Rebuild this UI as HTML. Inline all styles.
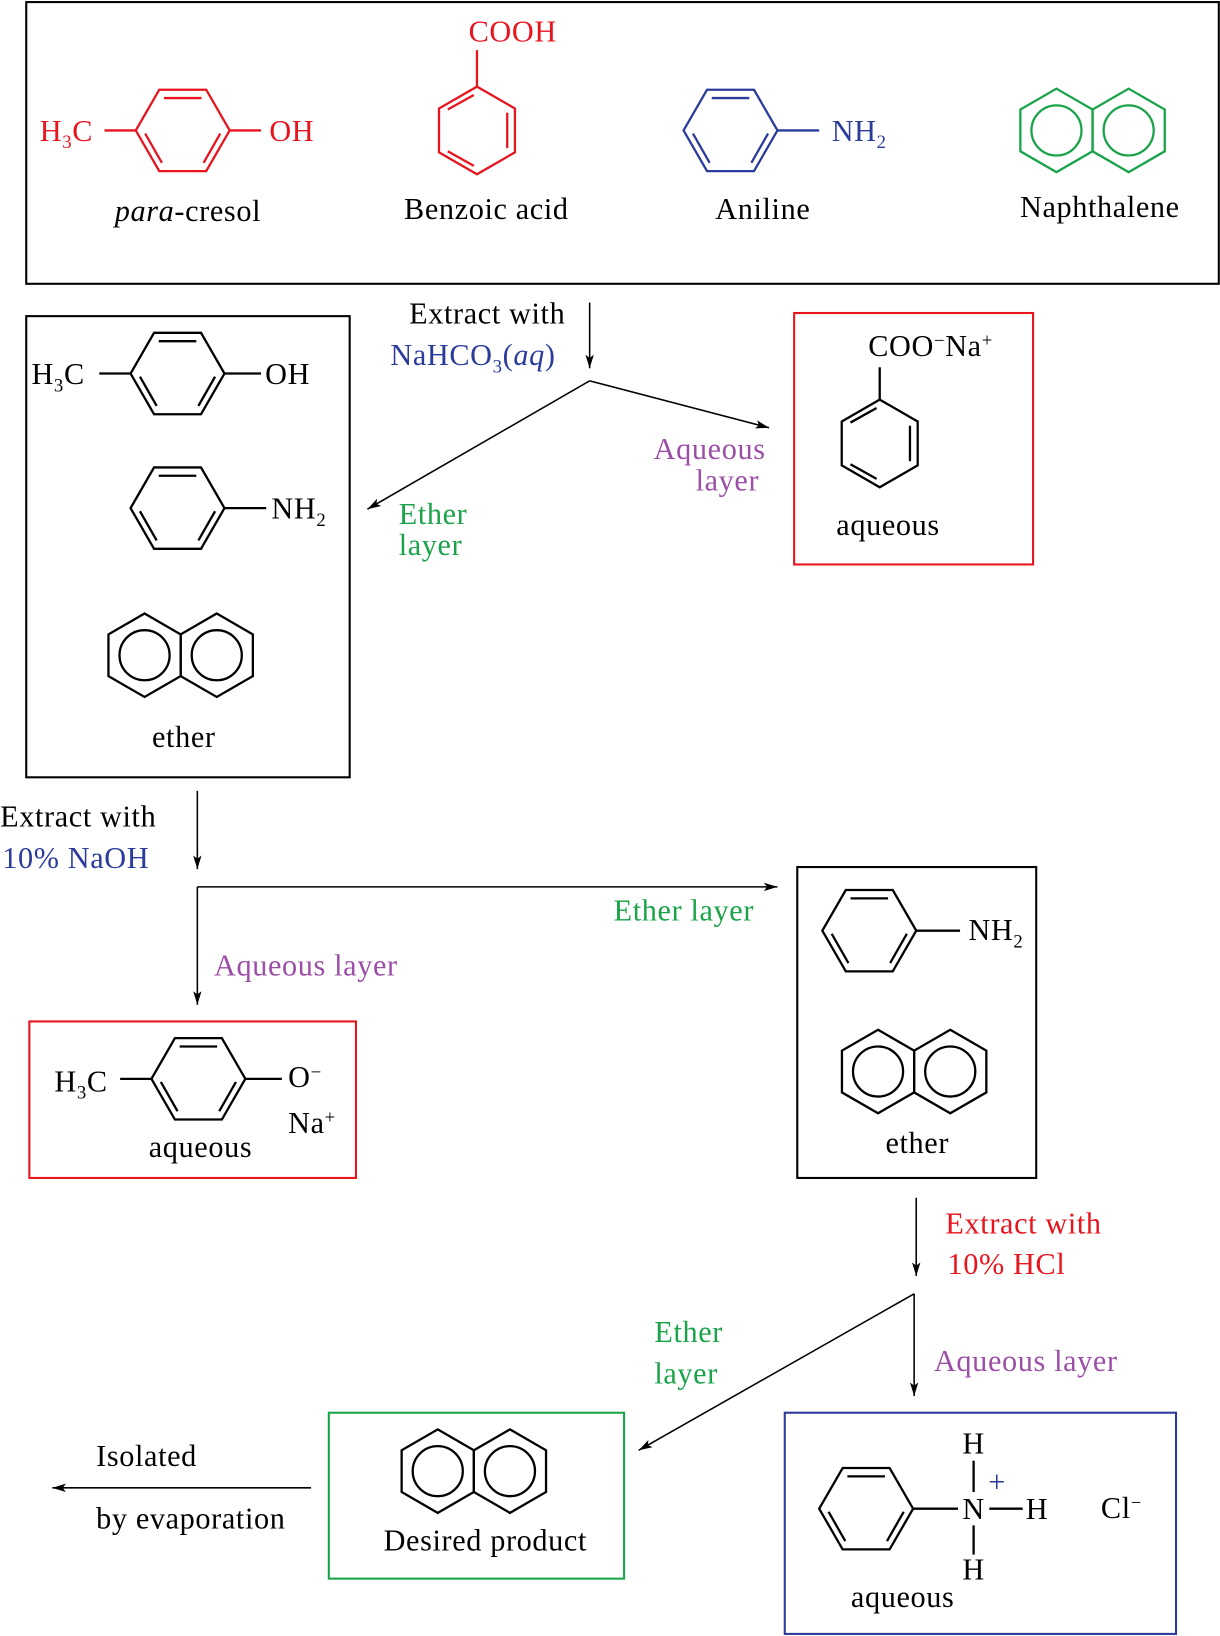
<!DOCTYPE html>
<html><head><meta charset="utf-8"><style>
html,body{margin:0;padding:0;background:#fff;}
svg{display:block;}
text{font-family:"Liberation Serif",serif;font-size:29px;letter-spacing:0.6px;}
</style></head><body>
<svg width="1220" height="1636" viewBox="0 0 1169 1568" xmlns="http://www.w3.org/2000/svg">
<defs>
<g id="hexH" fill="none" stroke-width="2.2">
<polygon points="-45,0 -22.5,-39 22.5,-39 45,0 22.5,39 -22.5,39"/>
<line x1="-18" y1="-31" x2="18" y2="-31"/>
<line x1="36" y1="3" x2="20" y2="31"/>
<line x1="-36" y1="3" x2="-20" y2="31"/>
</g>
<g id="hexV" fill="none" stroke-width="2.2">
<polygon points="0,-42 36.4,-21 36.4,21 0,42 -36.4,21 -36.4,-21"/>
<line x1="29" y1="-17" x2="29" y2="17"/>
<line x1="-3" y1="34" x2="-28" y2="20"/>
<line x1="-28" y1="-20" x2="-3" y2="-34"/>
</g>
<g id="naph" fill="none" stroke-width="2.2">
<polygon points="-34.6,-40 0,-20 0,20 -34.6,40 -69.2,20 -69.2,-20"/>
<polygon points="34.6,-40 69.2,-20 69.2,20 34.6,40 0,20 0,-20"/>
<circle cx="-34.6" cy="0" r="24"/>
<circle cx="34.6" cy="0" r="24"/>
</g>
<marker id="ar" markerWidth="14" markerHeight="10" refX="13" refY="5" orient="auto" markerUnits="userSpaceOnUse">
<path d="M0,1 L13,5 L0,9 L3,5 Z" fill="#000"/>
</marker>
</defs>

<rect x="25" y="2" width="1143" height="270" fill="none" stroke="#000" stroke-width="2"/>
<g stroke="#e8141e" fill="#e8141e">
<use href="#hexH" x="175" y="125"/>
<line x1="100" y1="125" x2="130" y2="125" stroke-width="2.2"/>
<line x1="220" y1="125" x2="250" y2="125" stroke-width="2.2"/>
<use href="#hexV" x="457" y="125"/>
<line x1="457" y1="83" x2="457" y2="48" stroke-width="2.2"/>
</g>
<text x="38" y="135" fill="#e8141e">H<tspan font-size="18" dy="7">3</tspan><tspan dy="-7">C</tspan></text>
<text x="258" y="135" fill="#e8141e">OH</text>
<text x="449" y="40" fill="#e8141e">COOH</text>
<text x="180" y="212" text-anchor="middle"><tspan font-style="italic">para</tspan>-cresol</text>
<text x="466" y="210" text-anchor="middle">Benzoic acid</text>
<g stroke="#2a3b9c"><use href="#hexH" x="700" y="125"/>
<line x1="745" y1="125" x2="785" y2="125" stroke-width="2.2"/></g>
<text x="797" y="135" fill="#2a3b9c">NH<tspan font-size="18" dy="7">2</tspan></text>
<text x="731" y="210" text-anchor="middle">Aniline</text>
<g stroke="#1aa34a"><use href="#naph" x="1047" y="125"/></g>
<text x="1054" y="208" text-anchor="middle">Naphthalene</text>

<text x="392" y="310">Extract with</text>
<text x="374" y="350" fill="#2a3b9c">NaHCO<tspan font-size="18" dy="7">3</tspan><tspan dy="-7">(</tspan><tspan font-style="italic">aq</tspan>)</text>
<line x1="565" y1="290" x2="565" y2="353" stroke="#000" stroke-width="1.5" marker-end="url(#ar)"/>
<line x1="565" y1="365" x2="352" y2="488" stroke="#000" stroke-width="1.5" marker-end="url(#ar)"/>
<line x1="565" y1="365" x2="737" y2="410" stroke="#000" stroke-width="1.5" marker-end="url(#ar)"/>
<text x="680" y="440" fill="#9b4fa6" text-anchor="middle">Aqueous</text>
<text x="697" y="470" fill="#9b4fa6" text-anchor="middle">layer</text>
<text x="382" y="502" fill="#1aa34a">Ether</text>
<text x="382" y="532" fill="#1aa34a">layer</text>

<rect x="25" y="303" width="310" height="442" fill="none" stroke="#000" stroke-width="2"/>
<g stroke="#000">
<use href="#hexH" x="170" y="358"/>
<line x1="95" y1="358" x2="125" y2="358" stroke-width="2.2"/>
<line x1="215" y1="358" x2="250" y2="358" stroke-width="2.2"/>
<use href="#hexH" x="170" y="487"/>
<line x1="215" y1="487" x2="255" y2="487" stroke-width="2.2"/>
<use href="#naph" x="173" y="628"/>
</g>
<text x="30" y="368">H<tspan font-size="18" dy="7">3</tspan><tspan dy="-7">C</tspan></text>
<text x="254" y="368">OH</text>
<text x="260" y="497">NH<tspan font-size="18" dy="7">2</tspan></text>
<text x="176" y="716" text-anchor="middle">ether</text>

<rect x="761" y="300" width="229" height="241" fill="none" stroke="#e8141e" stroke-width="2"/>
<g stroke="#000"><use href="#hexV" x="843" y="425"/>
<line x1="843" y1="383" x2="843" y2="352" stroke-width="2.2"/></g>
<text x="832" y="341">COO<tspan font-size="18" dy="-9">−</tspan><tspan dy="9">Na</tspan><tspan font-size="18" dy="-9">+</tspan></text>
<text x="851" y="513" text-anchor="middle">aqueous</text>

<text x="0" y="792">Extract with</text>
<text x="2" y="832" fill="#2a3b9c">10% NaOH</text>
<line x1="189" y1="758" x2="189" y2="833" stroke="#000" stroke-width="1.5" marker-end="url(#ar)"/>
<line x1="189" y1="850" x2="745" y2="850" stroke="#000" stroke-width="1.5" marker-end="url(#ar)"/>
<line x1="189" y1="850" x2="189" y2="963" stroke="#000" stroke-width="1.5" marker-end="url(#ar)"/>
<text x="588" y="882" fill="#1aa34a">Ether layer</text>
<text x="205" y="935" fill="#9b4fa6">Aqueous layer</text>

<rect x="28" y="979" width="313" height="150" fill="none" stroke="#e8141e" stroke-width="2"/>
<g stroke="#000"><use href="#hexH" x="190" y="1034"/>
<line x1="115" y1="1034" x2="145" y2="1034" stroke-width="2.2"/>
<line x1="235" y1="1034" x2="270" y2="1034" stroke-width="2.2"/></g>
<text x="52" y="1046">H<tspan font-size="18" dy="7">3</tspan><tspan dy="-7">C</tspan></text>
<text x="276" y="1042">O<tspan font-size="18" dy="-9">−</tspan></text>
<text x="276" y="1086">Na<tspan font-size="18" dy="-9">+</tspan></text>
<text x="192" y="1109" text-anchor="middle">aqueous</text>

<rect x="764" y="831" width="229" height="298" fill="none" stroke="#000" stroke-width="2"/>
<g stroke="#000"><use href="#hexH" x="833" y="892"/>
<line x1="878" y1="892" x2="920" y2="892" stroke-width="2.2"/>
<use href="#naph" x="876" y="1027"/></g>
<text x="928" y="901">NH<tspan font-size="18" dy="7">2</tspan></text>
<text x="879" y="1105" text-anchor="middle">ether</text>

<line x1="878" y1="1148" x2="878" y2="1223" stroke="#000" stroke-width="1.5" marker-end="url(#ar)"/>
<text x="906" y="1182" fill="#e8141e">Extract with</text>
<text x="908" y="1221" fill="#e8141e">10% HCl</text>
<line x1="876" y1="1240" x2="612" y2="1390" stroke="#000" stroke-width="1.5" marker-end="url(#ar)"/>
<line x1="876" y1="1240" x2="876" y2="1338" stroke="#000" stroke-width="1.5" marker-end="url(#ar)"/>
<text x="627" y="1286" fill="#1aa34a">Ether</text>
<text x="627" y="1326" fill="#1aa34a">layer</text>
<text x="895" y="1314" fill="#9b4fa6">Aqueous layer</text>

<rect x="315" y="1354" width="283" height="159" fill="none" stroke="#1aa34a" stroke-width="2"/>
<g stroke="#000"><use href="#naph" x="454" y="1410"/></g>
<text x="465" y="1486" text-anchor="middle">Desired product</text>
<line x1="298" y1="1426" x2="50" y2="1426" stroke="#000" stroke-width="1.5" marker-end="url(#ar)"/>
<text x="92" y="1405">Isolated</text>
<text x="92" y="1465">by evaporation</text>

<rect x="752" y="1354" width="375" height="212" fill="none" stroke="#2a3b9c" stroke-width="2"/>
<g stroke="#000" stroke-width="2.2"><use href="#hexH" x="830" y="1446"/>
<line x1="875" y1="1446" x2="918" y2="1446"/>
<line x1="933" y1="1400" x2="933" y2="1430"/>
<line x1="933" y1="1462" x2="933" y2="1490"/>
<line x1="948" y1="1446" x2="980" y2="1446"/></g>
<text x="933" y="1393" text-anchor="middle">H</text>
<text x="933" y="1456" text-anchor="middle">N</text>
<text x="933" y="1514" text-anchor="middle">H</text>
<text x="983" y="1456">H</text>
<text x="947" y="1430" fill="#2a3b9c" font-size="22">+</text>
<text x="1055" y="1455">Cl<tspan font-size="18" dy="-9">−</tspan></text>
<text x="865" y="1540" text-anchor="middle">aqueous</text>
</svg>
</body></html>
